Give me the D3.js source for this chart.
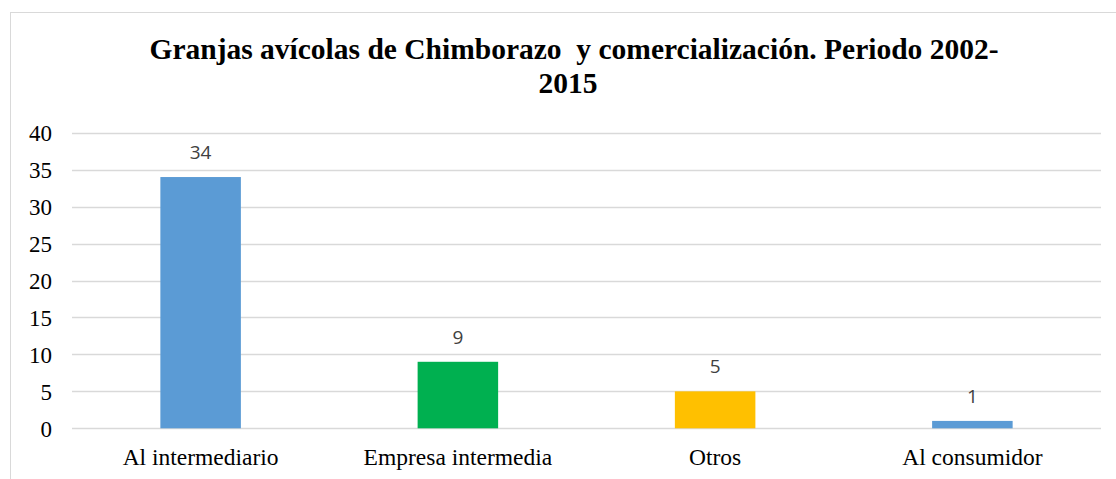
<!DOCTYPE html>
<html><head><meta charset="utf-8">
<script src="https://cdn.jsdelivr.net/npm/d3@7"></script>
<style>html,body{margin:0;padding:0;background:#fff;}svg{display:block;}
.serif{font-family:"Liberation Serif","Times New Roman",Tinos,"Nimbus Roman","DejaVu Serif",serif !important;}
</style>
</head><body>
<svg id="chart" width="1116" height="479"></svg>
<script>
const categories = ["Al intermediario", "Empresa intermedia", "Otros", "Al consumidor"];
const values = [34, 9, 5, 1];
const barColors = ["#5B9BD5", "#00B050", "#FFC000", "#5B9BD5"];
const yTicks = [0, 5, 10, 15, 20, 25, 30, 35, 40];
const titleLines = ["Granjas avícolas de Chimborazo  y comercialización. Periodo 2002-", "2015"];

const svg = d3.select("#chart");
svg.append("rect").attr("x", 10.5).attr("y", 12.5).attr("width", 1130).attr("height", 500)
  .attr("fill", "#fff").attr("stroke", "#d9d9d9").attr("stroke-width", 1);

const x = d3.scaleBand().domain(categories).range([72, 1101]).paddingInner(0.687).paddingOuter(0.3435);
const y = d3.scaleLinear().domain([0, 40]).range([428.3, 132.7]);

// gridlines
svg.append("g").selectAll("line").data(yTicks).join("line")
  .attr("x1", 72).attr("x2", 1101)
  .attr("y1", d => Math.round(y(d)) + 0.5).attr("y2", d => Math.round(y(d)) + 0.5)
  .attr("stroke", "#d9d9d9").attr("stroke-width", 1.3);

// y axis labels
const yAxis = d3.axisLeft(y).tickValues(yTicks).tickSize(0).tickPadding(0);
const yg = svg.append("g").attr("transform", "translate(52,0)").call(yAxis);
yg.attr("font-family", null);
yg.select(".domain").remove();
yg.selectAll("text").classed("serif", true)
  .attr("font-size", 23).attr("fill", "#000").attr("dy", "0.34em");

// bars
svg.append("g").selectAll("rect").data(values).join("rect")
  .attr("x", (d, i) => x(categories[i]))
  .attr("width", x.bandwidth())
  .attr("y", d => y(d))
  .attr("height", d => y(0) - y(d))
  .attr("fill", (d, i) => barColors[i]);

// data labels
svg.append("g").selectAll("text").data(values).join("text")
  .attr("x", (d, i) => x(categories[i]) + x.bandwidth() / 2)
  .attr("y", d => y(d) - 18)
  .attr("text-anchor", "middle")
  .attr("font-family", "'Open Sans',sans-serif").attr("font-size", 19).attr("fill", "#404040")
  .text(d => d);

// x axis labels
const xAxis = d3.axisBottom(x).tickSize(0).tickPadding(0);
const xg = svg.append("g").attr("transform", "translate(0,465)").call(xAxis);
xg.attr("font-family", null);
xg.select(".domain").remove();
xg.selectAll("text").classed("serif", true)
  .attr("font-size", 23.5).attr("fill", "#000").attr("dy", 0);

// title
svg.append("g").selectAll("text").data(titleLines).join("text")
  .classed("serif", true)
  .attr("x", (d, i) => i === 0 ? 574 : 568)
  .attr("y", (d, i) => 59 + i * 34)
  .attr("text-anchor", "middle")
  .attr("font-weight", "bold").attr("font-size", 29.5).attr("fill", "#000")
  .style("white-space", "pre")
  .text(d => d);
</script>
</body></html>
